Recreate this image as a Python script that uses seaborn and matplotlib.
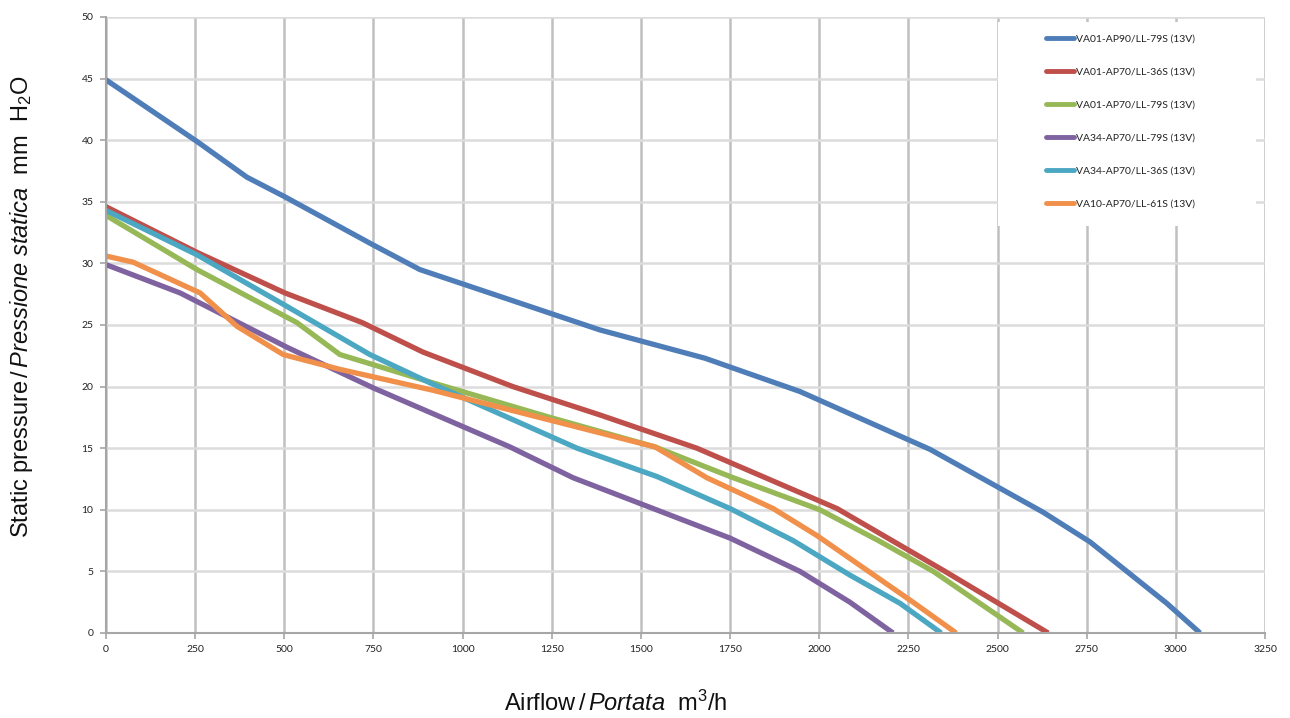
import matplotlib
matplotlib.use("Agg")
import matplotlib.pyplot as plt
from matplotlib.patches import Rectangle
import seaborn as sns
import pandas as pd

series_names = [
    "VA01-AP90/LL-79S (13V)",
    "VA01-AP70/LL-36S (13V)",
    "VA01-AP70/LL-79S (13V)",
    "VA34-AP70/LL-79S (13V)",
    "VA34-AP70/LL-36S (13V)",
    "VA10-AP70/LL-61S (13V)",
]

blue_x = [0, 255, 395, 502, 749, 880, 1385, 1680, 1946, 2311, 2628, 2759, 2975, 3068]
blue_y = [44.9, 39.9, 37.0, 35.4, 31.5, 29.5, 24.6, 22.3, 19.6, 14.9, 9.8, 7.4, 2.4, 0]

red_x = [0, 255, 502, 718, 889, 1141, 1385, 1657, 2050, 2347, 2642]
red_y = [34.6, 30.9, 27.6, 25.2, 22.8, 20.0, 17.7, 15.0, 10.1, 5.1, 0]

green_x = [0, 255, 535, 656, 917, 1245, 1540, 1750, 2002, 2166, 2320, 2572]
green_y = [33.9, 29.5, 25.2, 22.6, 20.3, 17.5, 15.1, 12.7, 10.0, 7.5, 5.0, 0]

purple_x = [0, 208, 507, 749, 1133, 1310, 1750, 1946, 2086, 2207]
purple_y = [29.9, 27.6, 23.2, 19.9, 15.1, 12.6, 7.7, 5.0, 2.5, 0]

cyan_x = [0, 255, 502, 740, 909, 1321, 1545, 1750, 1927, 2086, 2227, 2342]
cyan_y = [34.3, 30.7, 26.6, 22.6, 20.3, 15.0, 12.7, 10.1, 7.5, 4.7, 2.4, 0]

orange_x = [0, 76, 264, 367, 497, 656, 917, 1540, 1685, 1871, 1994, 2263, 2384]
orange_y = [30.6, 30.1, 27.6, 24.9, 22.6, 21.4, 19.7, 15.1, 12.6, 10.1, 7.9, 2.5, 0]

colors = ["#4F7DB8", "#BE4F4B", "#97B857", "#7F63A0", "#4BA7C2", "#F0904A"]

x_ticks = list(range(0, 3251, 250))
y_ticks = list(range(0, 51, 5))

x_label = r"Airflow$\,$/$\,\mathit{Portata}$  m$^\mathregular{3}$/h"
y_label = r"Static pressure$\,$/$\,\mathit{Pressione\ statica}$  mm  H$_\mathregular{2}$O"

all_x = [blue_x, red_x, green_x, purple_x, cyan_x, orange_x]
all_y = [blue_y, red_y, green_y, purple_y, cyan_y, orange_y]
frames = []
for name, xs, ys in zip(series_names, all_x, all_y):
    frames.append(pd.DataFrame({"Airflow": xs, "Pressure": ys, "Series": name}))
df = pd.concat(frames, ignore_index=True)

sns.set_theme(style="white")
plt.rcParams["font.family"] = ["Liberation Sans", "DejaVu Sans"]
plt.rcParams["mathtext.fontset"] = "custom"
plt.rcParams["mathtext.rm"] = "Liberation Sans"
plt.rcParams["mathtext.it"] = "Liberation Sans:italic"

fig = plt.figure(figsize=(12.9, 7.18), dpi=100)
ax = fig.add_axes([106 / 1290, (718 - 633) / 718, (1265 - 106) / 1290, (633 - 17) / 718])

sns.lineplot(data=df, x="Airflow", y="Pressure", hue="Series", hue_order=series_names,
             palette=colors, sort=False, estimator=None,
             linewidth=3.8, ax=ax, legend=True, solid_capstyle="butt")

ax.set_xlim(0, 3250)
ax.set_ylim(0, 50)
ax.set_xticks(x_ticks)
ax.set_yticks(y_ticks)
ax.tick_params(axis="both", labelsize=7.5, length=4, width=1.2, color="#a6a6a6",
               direction="out", pad=5, bottom=True, left=True, labelcolor="#222222")
for lab in ax.get_xticklabels() + ax.get_yticklabels():
    lab.set_fontfamily("Lato")

ax.grid(True, axis="x", color="#c0c0c0", linewidth=1.8)
ax.grid(True, axis="y", color="#dcdcdc", linewidth=1.8)
ax.set_axisbelow(True)
for s in ["top", "right"]:
    ax.spines[s].set_visible(False)
for s in ["left", "bottom"]:
    ax.spines[s].set_color("#a6a6a6")
    ax.spines[s].set_linewidth(1.5)

ax.set_xlabel("")
ax.set_ylabel("")
fig.text(616 / 1290, 1 - 703 / 718, x_label, fontsize=17, ha="center", va="center", color="#111111")
fig.text(22 / 1290, 1 - 307 / 718, y_label, fontsize=17, ha="center", va="center",
         rotation=90, color="#111111")

# white legend background box (covers grid like the original)
x0 = (998 - 106) / 1159
x1 = (1256 - 106) / 1159
y_top = (633 - 22) / 616
y_bot = (633 - 226) / 616
ax.add_patch(Rectangle((x0, y_bot), x1 - x0, y_top - y_bot, transform=ax.transAxes,
                       facecolor="white", edgecolor="none", zorder=2))

leg = ax.legend(loc="upper left", bbox_to_anchor=((1046 - 106) / 1159, (633 - 34) / 616),
                frameon=False, fontsize=7.5, handlelength=2.7, handletextpad=0.15,
                labelspacing=2.28, borderpad=0, borderaxespad=0)
for t in leg.get_texts():
    t.set_fontfamily("Lato")
    t.set_color("#222222")
for h in leg.get_lines():
    h.set_linewidth(3.5)
    h.set_solid_capstyle("round")
leg.set_zorder(5)

fig.savefig("out.png", dpi=100, facecolor="white")
